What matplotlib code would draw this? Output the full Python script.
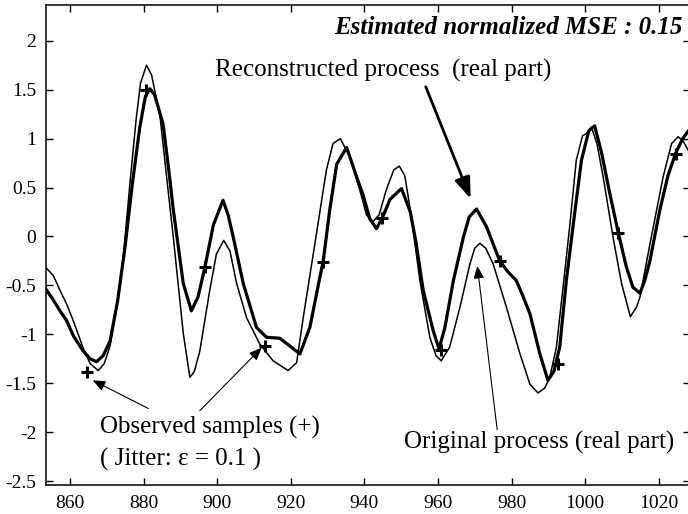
import numpy as np
import matplotlib.pyplot as plt

plt.rcParams['font.family'] = ['Liberation Serif', 'DejaVu Serif']
plt.rcParams['axes.unicode_minus'] = False

# original process (thin line)
orig_x = [853.5, 855.5, 857.3, 859.1, 861.0, 863.6, 865.5, 867.7, 869.3, 870.9,
          872.7, 874.5, 876.3, 878.0, 879.2, 880.8, 882.2, 884.5, 886.3, 888.1,
          890.8, 892.6, 893.8, 895.3, 898.0, 899.8, 901.8, 903.5, 905.3, 908.0,
          911.6, 915.2, 919.3, 921.6, 923.4, 925.2, 927.0, 929.7, 931.5, 933.5,
          936.1, 938.8, 940.6, 942.3, 944.0, 946.0, 948.0, 949.5, 951.0, 952.6,
          955.1, 957.8, 959.5, 960.9, 963.2, 966.0, 968.7, 970.0, 971.4, 973.0,
          975.0, 978.6, 982.3, 985.0, 987.2, 989.0, 990.4, 992.2, 994.0, 995.8,
          997.6, 999.3, 1000.3, 1001.7, 1003.2, 1004.9, 1007.6, 1009.9, 1012.3, 1014.0,
          1014.9, 1017.6, 1021.2, 1023.5, 1025.3, 1026.7, 1028.5]
orig_y = [-0.32, -0.40, -0.55, -0.69, -0.87, -1.14, -1.30, -1.37, -1.30, -1.12,
          -0.72, -0.21, 0.54, 1.20, 1.57, 1.75, 1.65, 1.22, 0.60, -0.01,
          -0.99, -1.44, -1.38, -1.17, -0.55, -0.18, -0.04, -0.15, -0.48, -0.83,
          -1.10, -1.27, -1.37, -1.29, -0.83, -0.40, 0.03, 0.68, 0.95, 1.00,
          0.81, 0.47, 0.22, 0.15, 0.22, 0.48, 0.68, 0.72, 0.62, 0.25,
          -0.45, -1.03, -1.22, -1.27, -1.13, -0.72, -0.28, -0.12, -0.07, -0.12,
          -0.28, -0.72, -1.20, -1.51, -1.60, -1.55, -1.44, -1.13, -0.52, 0.10,
          0.78, 1.03, 1.05, 1.12, 0.95, 0.61, -0.01, -0.48, -0.82, -0.72,
          -0.62, -0.08, 0.61, 0.95, 1.02, 0.97, 0.85]

# reconstructed process (thick line)
rec_x = [853.5, 855.5, 857.3, 859.1, 861.0, 863.6, 865.5, 867.2, 869.0, 870.9,
         873.0, 875.0, 877.0, 879.0, 880.5, 881.7, 883.0, 885.3, 886.8, 888.1,
         890.8, 893.0, 894.8, 896.7, 899.0, 901.6, 903.0, 904.4, 907.1, 910.7,
         913.4, 917.0, 919.8, 922.5, 925.2, 927.9, 928.8, 930.6, 932.5, 935.2,
         937.9, 939.7, 941.5, 943.3, 945.0, 947.0, 950.1, 952.5, 954.0, 956.0,
         958.7, 960.3, 961.9, 964.2, 966.9, 968.5, 970.5, 973.2, 976.8, 979.0,
         981.3, 983.0, 985.0, 987.7, 989.9, 991.5, 993.1, 994.9, 996.7, 999.0,
         1001.0, 1002.6, 1004.5, 1006.7, 1009.0, 1011.2, 1013.0, 1014.9, 1016.2, 1017.6,
         1020.3, 1022.5, 1024.6, 1026.5, 1028.5]
rec_y = [-0.54, -0.65, -0.76, -0.86, -1.02, -1.17, -1.25, -1.28, -1.22, -1.07,
         -0.65, -0.10, 0.55, 1.12, 1.43, 1.51, 1.45, 1.15, 0.70, 0.27,
         -0.48, -0.76, -0.62, -0.31, 0.12, 0.37, 0.22, -0.01, -0.48, -0.93,
         -1.03, -1.04, -1.12, -1.20, -0.93, -0.42, -0.26, 0.27, 0.74, 0.91,
         0.61, 0.42, 0.18, 0.08, 0.20, 0.38, 0.49, 0.25, -0.05, -0.55,
         -0.96, -1.15, -0.93, -0.45, -0.01, 0.20, 0.28, 0.10, -0.25, -0.36,
         -0.45, -0.60, -0.79, -1.20, -1.47, -1.38, -1.13, -0.45, 0.10, 0.78,
         1.08, 1.13, 0.85, 0.44, 0.04, -0.31, -0.52, -0.58, -0.45, -0.25,
         0.27, 0.62, 0.85, 1.00, 1.10]

# observed jittered samples
obs_x = [864.7, 880.8, 896.7, 912.9, 928.8, 944.7, 960.8, 976.8, 992.7, 1008.9, 1024.6]
obs_y = [-1.39, 1.50, -0.31, -1.12, -0.26, 0.19, -1.16, -0.25, -1.30, 0.04, 0.84]

xticks = [860, 880, 900, 920, 940, 960, 980, 1000, 1020]
yticks = [-2.5, -2, -1.5, -1, -0.5, 0, 0.5, 1, 1.5, 2]
ytick_labels = ['-2.5', '-2', '-1.5', '-1', '-0.5', '0', '0.5', '1', '1.5', '2']

fig = plt.figure(figsize=(6.88, 5.14), dpi=100)
ax = fig.add_axes([46/688, 1 - 485/514, 644/688, 480/514])

ax.plot(orig_x, orig_y, color='k', lw=1.1)
ax.plot(rec_x, rec_y, color='k', lw=2.3)
ax.plot(obs_x, obs_y, ls='none', marker='+', color='k', ms=9, mew=2.2)

ax.set_xlim(853.5, 1028.5)
ax.set_ylim(-2.54, 2.366)
ax.set_xticks(xticks)
ax.set_xticklabels([str(t) for t in xticks])
ax.set_yticks(yticks)
ax.set_yticklabels(ytick_labels)
ax.tick_params(direction='in', length=5, width=1, labelsize=14,
               top=True, right=True, pad=7)
ax.spines['right'].set_visible(False)
for s in ['left', 'top', 'bottom']:
    ax.spines[s].set_linewidth(1.1)

ax.text(1026.6, 2.14, 'Estimated normalized MSE : 0.15', fontsize=18,
        fontweight='bold', fontstyle='italic', ha='right', va='center')
ax.text(899.4, 1.70, 'Reconstructed process  (real part)', fontsize=18,
        ha='left', va='center')
ax.text(868.2, -1.956, 'Observed samples (+)', fontsize=18, ha='left', va='center')
ax.text(868.2, -2.284, '( Jitter: \u03b5 = 0.1 )', fontsize=18, ha='left', va='center')
ax.text(950.8, -2.11, 'Original process (real part)', fontsize=18, ha='left', va='center')

# (tail, tip, line width, head length, head width)
arrows = [((956.7, 1.53), (968.9, 0.386), 2.0, 0.65, 0.24),
          ((881.3, -1.758), (866.2, -1.47), 0.8, 0.38, 0.16),
          ((895.3, -1.78), (912.1, -1.137), 0.8, 0.38, 0.16),
          ((976.1, -1.973), (970.7, -0.30), 0.8, 0.38, 0.16)]
for tail, tip, w, hl, hw in arrows:
    ax.annotate('', xy=tip, xytext=tail,
                arrowprops=dict(arrowstyle=f'-|>,head_length={hl},head_width={hw}',
                                lw=w, color='k', shrinkA=0, shrinkB=0,
                                mutation_scale=20))

fig.savefig('out.png', dpi=100)
